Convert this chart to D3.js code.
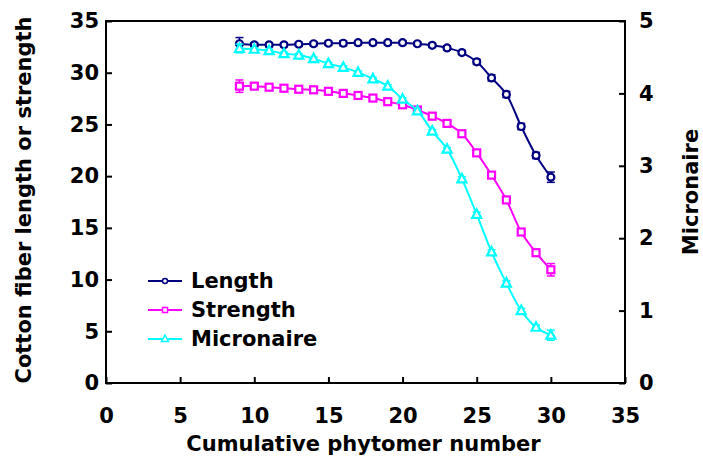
<!DOCTYPE html>
<html>
<head>
<meta charset="utf-8">
<script src="https://cdn.jsdelivr.net/npm/d3@7"></script>
<style>
  body { margin: 0; background: #fff; }
  text { font-family: "DejaVu Sans", sans-serif; font-weight: bold; fill: #000; }
</style>
</head>
<body>
<div id="chart"></div>
<script>
// phytomer numbers
var phytomer = [9,10,11,12,13,14,15,16,17,18,19,20,21,22,23,24,25,26,27,28,29,30];
// fiber length (left axis)
var lengthVals = [32.8,32.7,32.7,32.7,32.75,32.8,32.85,32.85,32.9,32.9,32.9,32.9,32.8,32.65,32.4,31.95,31.05,29.5,27.9,24.8,22.0,19.9];
var lengthErr  = [0.6,0.2,0.2,0.2,0.2,0.2,0.2,0.25,0.2,0.2,0.2,0.2,0.2,0.2,0.2,0.2,0.25,0.3,0.3,0.3,0.3,0.5];
// fiber strength (left axis)
var strengthVals = [28.7,28.7,28.6,28.5,28.4,28.35,28.2,28.0,27.8,27.55,27.2,26.9,26.4,25.8,25.1,24.1,22.25,20.1,17.7,14.6,12.6,10.95];
var strengthErr  = [0.6,0.3,0.2,0.3,0.3,0.3,0.2,0.2,0.2,0.2,0.2,0.2,0.2,0.2,0.2,0.2,0.3,0.3,0.3,0.3,0.3,0.6];
// micronaire (right axis)
var micronaireVals = [4.62,4.61,4.59,4.55,4.53,4.48,4.41,4.36,4.29,4.20,4.10,3.92,3.76,3.48,3.23,2.82,2.33,1.81,1.38,1.00,0.77,0.66];
var micronaireErr  = [0.06,0.02,0.02,0.02,0.02,0.02,0.02,0.02,0.02,0.02,0.02,0.02,0.02,0.02,0.02,0.03,0.03,0.03,0.03,0.03,0.03,0.07];

var xTicks = [0,5,10,15,20,25,30,35];
var yLeftTicks = [0,5,10,15,20,25,30,35];
var yRightTicks = [0,1,2,3,4,5];

var width = 703, height = 466;
var margin = {top:21, right:78, bottom:83, left:106};
var plotWidth = width - margin.left - margin.right;
var plotHeight = height - margin.top - margin.bottom;

var svg = d3.select('#chart').append('svg').attr('width',width).attr('height',height);
var plotArea = svg.append('g').attr('transform','translate('+margin.left+','+margin.top+')');

var xs = d3.scaleLinear().domain([0,35]).range([0,plotWidth]);
var ysL = d3.scaleLinear().domain([0,35]).range([plotHeight,0]);
var ysR = d3.scaleLinear().domain([0,5]).range([plotHeight,0]);

// frame
plotArea.append('rect').attr('x',0).attr('y',0).attr('width',plotWidth).attr('height',plotHeight)
  .attr('fill','none').attr('stroke','#000').attr('stroke-width',2);

// axes (ticks pointing inward, labels outside)
var axB = plotArea.append('g').attr('transform','translate(0,'+plotHeight+')')
  .call(d3.axisTop(xs).tickValues(xTicks).tickSize(6).tickFormat(''));
var axBl = plotArea.append('g').attr('transform','translate(0,'+plotHeight+')')
  .call(d3.axisBottom(xs).tickValues(xTicks).tickSize(0).tickPadding(25));
var axL = plotArea.append('g')
  .call(d3.axisRight(ysL).tickValues(yLeftTicks).tickSize(6).tickFormat(''));
var axLl = plotArea.append('g')
  .call(d3.axisLeft(ysL).tickValues(yLeftTicks).tickSize(0).tickPadding(7));
var axR = plotArea.append('g').attr('transform','translate('+plotWidth+',0)')
  .call(d3.axisLeft(ysR).tickValues(yRightTicks).tickSize(6).tickFormat(''));
var axRl = plotArea.append('g').attr('transform','translate('+plotWidth+',0)')
  .call(d3.axisRight(ysR).tickValues(yRightTicks).tickSize(0).tickPadding(14).tickFormat(d3.format('d')));

[axB,axBl,axL,axLl,axR,axRl].forEach(function(a){
  a.select('.domain').remove();
  a.selectAll('line').attr('stroke','#000').attr('stroke-width',2);
  a.selectAll('text').style('font-size','21px').style('font-family','"DejaVu Sans", sans-serif').style('font-weight','bold');
});

var series = [
  {name:'Length', vals:lengthVals, err:lengthErr, y:ysL, color:'#000080', shape:'circle'},
  {name:'Strength', vals:strengthVals, err:strengthErr, y:ysL, color:'#FF00FF', shape:'square'},
  {name:'Micronaire', vals:micronaireVals, err:micronaireErr, y:ysR, color:'#00FFFF', shape:'triangle'}
];

function drawMarker(g, shape, color, cx, cy){
  if(shape==='circle'){
    g.append('circle').attr('cx',cx).attr('cy',cy).attr('r',3.5)
      .attr('fill','#fff').attr('stroke',color).attr('stroke-width',2.2);
  } else if(shape==='square'){
    g.append('rect').attr('x',cx-3.5).attr('y',cy-3.5).attr('width',7).attr('height',7)
      .attr('fill','#fff').attr('stroke',color).attr('stroke-width',2.2);
  } else {
    g.append('path').attr('d','M'+cx+','+(cy-5)+'L'+(cx+4.5)+','+(cy+3.5)+'L'+(cx-4.5)+','+(cy+3.5)+'Z')
      .attr('fill','#fff').attr('stroke',color).attr('stroke-width',2.2);
  }
}

series.forEach(function(s){
  var g = plotArea.append('g');
  var pts = phytomer.map(function(p,i){ return [xs(p), s.y(s.vals[i]), s.y(s.vals[i]-s.err[i]), s.y(s.vals[i]+s.err[i])]; });
  // error bars
  pts.forEach(function(d){
    g.append('line').attr('x1',d[0]).attr('x2',d[0]).attr('y1',d[2]).attr('y2',d[3])
      .attr('stroke',s.color).attr('stroke-width',1.5);
    [d[2],d[3]].forEach(function(yy){
      g.append('line').attr('x1',d[0]-4).attr('x2',d[0]+4).attr('y1',yy).attr('y2',yy)
        .attr('stroke',s.color).attr('stroke-width',1.5);
    });
  });
  var line = d3.line().curve(d3.curveCatmullRom.alpha(0.5))
    .x(function(d){return d[0];}).y(function(d){return d[1];});
  g.append('path').datum(pts).attr('d',line).attr('fill','none')
    .attr('stroke',s.color).attr('stroke-width',2);
  pts.forEach(function(d){ drawMarker(g, s.shape, s.color, d[0], d[1]); });
});

// legend
var legend = svg.append('g');
series.forEach(function(s,i){
  var ly = 281 + i*29;
  legend.append('line').attr('x1',148).attr('x2',182).attr('y1',ly).attr('y2',ly)
    .attr('stroke',s.color).attr('stroke-width',2);
  var lg = legend.append('g');
  if(s.shape==='circle'){
    lg.append('circle').attr('cx',165).attr('cy',ly).attr('r',2.5).attr('fill','#fff').attr('stroke',s.color).attr('stroke-width',1.5);
  } else if(s.shape==='square'){
    lg.append('rect').attr('x',162.5).attr('y',ly-2.5).attr('width',5).attr('height',5).attr('fill','#fff').attr('stroke',s.color).attr('stroke-width',1.5);
  } else {
    lg.append('path').attr('d','M165,'+(ly-4)+'L168.5,'+(ly+2.5)+'L161.5,'+(ly+2.5)+'Z').attr('fill','#fff').attr('stroke',s.color).attr('stroke-width',1.5);
  }
  legend.append('text').attr('x',191).attr('y',ly+7).style('font-size','21px').text(s.name);
});

// axis titles
svg.append('text').attr('x',(margin.left+width-margin.right)/2 - 2).attr('y',451)
  .attr('text-anchor','middle').style('font-size','21px').text('Cumulative phytomer number');
svg.append('text').attr('transform','translate(31,'+(margin.top+plotHeight/2-2)+') rotate(-90)')
  .attr('text-anchor','middle').style('font-size','21px').text('Cotton fiber length or strength');
svg.append('text').attr('transform','translate(698,'+(margin.top+plotHeight/2-10)+') rotate(-90)')
  .attr('text-anchor','middle').style('font-size','21px').text('Micronaire');
</script>
</body>
</html>
